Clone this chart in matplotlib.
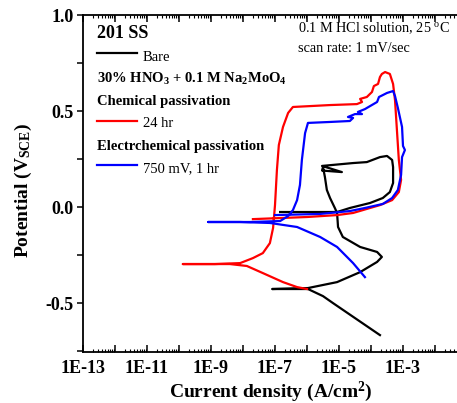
import numpy as np
import matplotlib
matplotlib.use("Agg")
import matplotlib.pyplot as plt
from matplotlib.ticker import FixedLocator, FuncFormatter, MultipleLocator

# --- data: log10(current density, A/cm2) and potential (V vs SCE) ---
bare_logi = [-3.72, -5.19, -5.50, -5.97, -7.09, -5.97, -5.06, -4.34, -3.81, -3.66,
             -3.81, -4.34, -4.88, -5.03, -5.06, -5.13, -5.28, -5.38, -5.44, -5.50,
             -5.53, -4.91, -5.53, -4.56, -4.13, -3.72, -3.50, -3.34, -3.31, -3.31,
             -3.41, -3.63, -4.03, -4.66, -5.06, -6.84]
bare_e = [-0.667, -0.500, -0.464, -0.427, -0.427, -0.422, -0.391, -0.339, -0.286, -0.260,
          -0.234, -0.208, -0.156, -0.104, -0.031, -0.005, 0.047, 0.089, 0.156, 0.208,
          0.190, 0.182, 0.214, 0.229, 0.234, 0.260, 0.266, 0.245, 0.208, 0.125,
          0.078, 0.047, 0.021, -0.005, -0.026, -0.026]

chem_logi = [-6.00, -6.31, -6.75, -7.38, -7.88, -8.41, -9.34, -9.88, -8.88, -8.09,
             -7.69, -7.38, -7.16, -7.06, -7.00, -6.94, -6.88, -6.75, -6.59, -6.44,
             -5.28, -4.44, -4.28, -4.34, -4.13, -3.97, -3.91, -3.78, -3.72, -3.66,
             -3.56, -3.41, -3.31, -3.25, -3.19, -3.13, -3.06, -3.13, -3.34, -3.72,
             -4.03, -4.56, -5.06, -6.00, -7.69]
chem_e = [-0.427, -0.417, -0.391, -0.344, -0.307, -0.297, -0.297, -0.297, -0.297, -0.292,
          -0.266, -0.240, -0.188, -0.109, 0.010, 0.193, 0.323, 0.417, 0.490, 0.521,
          0.531, 0.536, 0.547, 0.563, 0.573, 0.599, 0.630, 0.641, 0.677, 0.693,
          0.703, 0.693, 0.641, 0.557, 0.401, 0.245, 0.141, 0.078, 0.036, 0.010,
          -0.005, -0.031, -0.042, -0.052, -0.063]

elec_logi = [-4.19, -4.56, -5.06, -5.59, -6.31, -7.16, -8.09, -9.09, -7.78, -6.84,
             -6.59, -6.44, -6.31, -6.22, -6.16, -6.06, -5.97, -5.28, -4.66, -4.56,
             -4.72, -4.50, -4.28, -4.41, -4.19, -3.81, -3.75, -3.50, -3.31, -3.25,
             -3.16, -3.03, -3.00, -2.94, -3.03, -3.06, -3.16, -3.34, -3.63, -4.19,
             -4.66, -5.59, -7.00]
elec_e = [-0.365, -0.292, -0.208, -0.156, -0.104, -0.083, -0.078, -0.078, -0.078, -0.073,
          -0.047, -0.016, 0.036, 0.115, 0.245, 0.385, 0.438, 0.443, 0.448, 0.464,
          0.469, 0.484, 0.484, 0.495, 0.510, 0.547, 0.573, 0.594, 0.604, 0.578,
          0.516, 0.417, 0.318, 0.297, 0.260, 0.167, 0.089, 0.047, 0.016, -0.005,
          -0.021, -0.036, -0.042]

xtick_exps = [-13, -11, -9, -7, -5, -3]

plt.rcParams['font.family'] = ['Liberation Serif', 'DejaVu Serif']
plt.rcParams['mathtext.fontset'] = 'custom'
plt.rcParams['mathtext.rm'] = 'Liberation Serif'
plt.rcParams['mathtext.bf'] = 'Liberation Serif:bold'
plt.rcParams['mathtext.it'] = 'Liberation Serif:italic'

W, H = 457, 403
fig = plt.figure(figsize=(W / 100, H / 100), dpi=100)
ax = fig.add_axes([83 / W, 1 - 352 / H, 374 / W, 337 / H])

lw = 1.6
ax.plot(10 ** np.array(bare_logi), bare_e, color='black', lw=lw)
ax.plot(10 ** np.array(chem_logi), chem_e, color='red', lw=lw)
ax.plot(10 ** np.array(elec_logi), elec_e, color='blue', lw=lw)

ax.set_xscale('log')
ax.set_xlim(1e-13, 10 ** (-13 + 374 / 32))
ax.set_ylim(-0.755, 1.0)

# axes styling (Origin-like)
ax.spines['right'].set_visible(False)
for s in ['left', 'bottom', 'top']:
    ax.spines[s].set_linewidth(1.3)

ax.xaxis.set_major_locator(FixedLocator([10.0 ** k for k in range(-13, 0)]))
ax.xaxis.set_minor_locator(FixedLocator([m * 10.0 ** k for k in range(-13, 0) for m in range(2, 10)]))
ax.xaxis.set_major_formatter(FuncFormatter(
    lambda v, p: f"1E{int(round(np.log10(v)))}" if int(round(np.log10(v))) in xtick_exps else ""))
ax.xaxis.set_minor_formatter(FuncFormatter(lambda v, p: ""))
ax.tick_params(axis='x', which='major', direction='in', length=5, width=1.1,
               top=True, labelsize=13, pad=6)
ax.tick_params(axis='x', which='minor', direction='in', length=2.5, width=0.8, top=True)

ax.yaxis.set_major_locator(MultipleLocator(0.5))
ax.yaxis.set_minor_locator(MultipleLocator(0.25))
ax.yaxis.set_major_formatter(FuncFormatter(lambda v, p: f"{v:.1f}"))
ax.tick_params(axis='y', which='major', direction='out', length=4, width=1.1,
               labelsize=13, pad=3)
ax.tick_params(axis='y', which='minor', direction='out', length=4, width=1.1)
for lab in ax.get_xticklabels() + ax.get_yticklabels():
    lab.set_fontweight('bold')

ax.set_ylabel(r"Potential (V$_{\mathbf{SCE}}$)", fontsize=14, fontweight='bold', va='center')
ax.yaxis.set_label_coords(-0.16, 0.48)
ax.set_xlabel(r"Current density (A/cm$^{\mathbf{2}}$)", fontsize=14, fontweight='bold', va='baseline')
ax.xaxis.set_label_coords(0.501, -0.133)

# in-plot legend / annotations
tx = 0.0374
T = ax.transAxes
ax.text(tx, 0.932, "201 SS", transform=T, fontsize=13, fontweight='bold', va='baseline')
ax.plot([tx, 0.1444], [0.887, 0.887], color='black', lw=lw, transform=T)
ax.text(0.160, 0.864, "Bare", transform=T, fontsize=10.5, va='baseline')
ax.text(tx, 0.798, r"30% HNO$_{\mathbf{3}}$ + 0.1 M Na$_{\mathbf{2}}$MoO$_{\mathbf{4}}$",
        transform=T, fontsize=10.5, fontweight='bold', va='baseline')
ax.text(tx, 0.733, "Chemical passivation", transform=T, fontsize=10.5, fontweight='bold', va='baseline')
ax.plot([tx, 0.1444], [0.685, 0.685], color='red', lw=lw, transform=T)
ax.text(0.160, 0.668, "24 hr", transform=T, fontsize=10.5, va='baseline')
ax.text(tx, 0.599, "Electrchemical passivation", transform=T, fontsize=10.5, fontweight='bold', va='baseline')
ax.plot([tx, 0.1444], [0.555, 0.555], color='blue', lw=lw, transform=T)
ax.text(0.160, 0.534, "750 mV, 1 hr", transform=T, fontsize=10.5, va='baseline')

ax.text(0.575, 0.950, r"0.1 M HCl solution, 25 $^{\mathrm{o}}$C", transform=T, fontsize=10.3, va='baseline')
ax.text(0.575, 0.890, "scan rate: 1 mV/sec", transform=T, fontsize=10.3, va='baseline')

fig.savefig("out.png", dpi=100)
